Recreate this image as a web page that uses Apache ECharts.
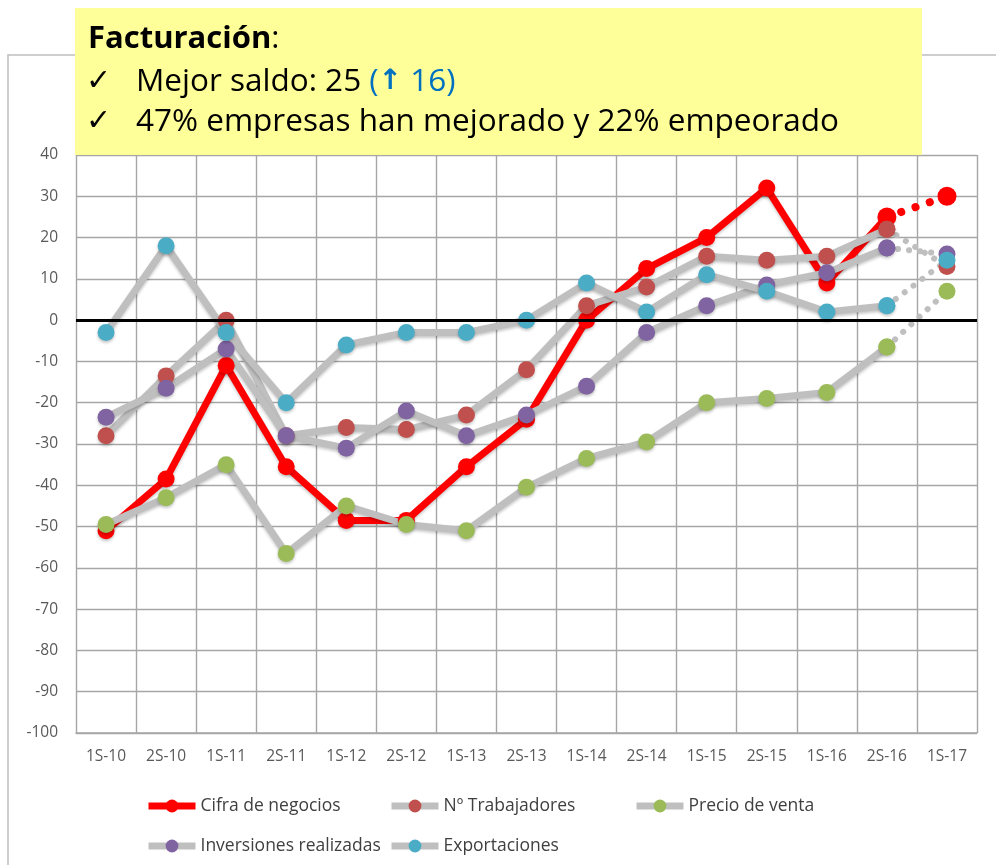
<!DOCTYPE html>
<html>
<head>
<meta charset="utf-8">
<script src="https://cdn.jsdelivr.net/npm/echarts@6/dist/echarts.min.js"></script>
<style>
html,body{margin:0;padding:0;background:#fff;}
#main{width:996px;height:865px;}
</style>
</head>
<body>
<div id="main"></div>
<script>
// categorias (semestres)
var categories=['1S-10','2S-10','1S-11','2S-11','1S-12','2S-12','1S-13','2S-13','1S-14','2S-14','1S-15','2S-15','1S-16','2S-16','1S-17'];
// saldos
var cifraNegocios=[-51,-38.5,-11,-35.5,-48.5,-48.5,-35.5,-24,0,12.5,20,32,9,25,30];
var trabajadores=[-28,-13.5,0,-28,-26,-26.5,-23,-12,3.5,8,15.5,14.5,15.5,22,13];
var precioVenta=[-49.5,-43,-35,-56.5,-45,-49.5,-51,-40.5,-33.5,-29.5,-20,-19,-17.5,-6.5,7];
var inversiones=[-23.5,-16.5,-7,-28,-31,-22,-28,-23,-16,-3,3.5,8.5,11.5,17.5,16];
var exportaciones=[-3,18,-3,-20,-6,-3,-3,0,9,2,11,7,2,3.5,14.5];
var yTicks=[-100,-90,-80,-70,-60,-50,-40,-30,-20,-10,0,10,20,30,40];

var seriesDefs=[
	{name:'Cifra de negocios',data:cifraNegocios,line:'#FF0000',dot:'#FF0000'},
	{name:'Nº Trabajadores',data:trabajadores,line:'#BFBFBF',dot:'#C0504D'},
	{name:'Precio de venta',data:precioVenta,line:'#BFBFBF',dot:'#9BBB59'},
	{name:'Inversiones realizadas',data:inversiones,line:'#BFBFBF',dot:'#8064A2'},
	{name:'Exportaciones',data:exportaciones,line:'#BFBFBF',dot:'#4BACC6'}
];
var legendPos=[[140,792],[383,792],[628,792],[140,832],[383,832]];

var FONT='"Open Sans"';
var last=categories.length-1;
var series=[];
var legends=[];
seriesDefs.forEach(function(s,k){
	//tramo real
	var solid=s.data.map(function(v,i){return i<last?v:null;});
	//tramo previsto (punteado)
	var dotted=s.data.map(function(v,i){return i>=last-1?v:null;});
	series.push({
		name:s.name,type:'line',data:solid,symbol:'circle',symbolSize:17,
		lineStyle:{color:s.line,width:7,shadowColor:'rgba(0,0,0,0.22)',shadowBlur:3,shadowOffsetY:2},
		itemStyle:{color:s.dot,shadowColor:'rgba(0,0,0,0.22)',shadowBlur:3,shadowOffsetY:2},
		markLine:k==0?{silent:true,symbol:'none',label:{show:false},lineStyle:{color:'#000',width:3,type:'solid'},data:[{yAxis:0}]}:undefined
	});
	series.push({
		name:s.name,type:'line',data:dotted,symbol:'circle',symbolSize:k==0?19:17,
		lineStyle:{color:s.line,width:k==0?8:6,type:k==0?[0.1,15]:[0.1,11],cap:'round'},
		itemStyle:{color:s.dot}
	});
	legends.push({
		data:[s.name],left:legendPos[k][0],top:legendPos[k][1],
		itemWidth:47,itemHeight:16,itemGap:0,
		lineStyle:{width:7},
		textStyle:{fontFamily:FONT,fontSize:17.5,color:'#404040'}
	});
});

var myChart=echarts.init(document.getElementById('main'));
var option={
	animation:false,
	backgroundColor:'#fff',
	legend:legends,
	grid:{left:76,right:19,top:155,bottom:132,containLabel:false},
	xAxis:{
		type:'category',data:categories,boundaryGap:true,
		axisLine:{onZero:false,lineStyle:{color:'#A6A6A6',width:1.5}},
		axisTick:{show:false},
		axisLabel:{fontFamily:FONT,fontSize:15.5,color:'#595959',margin:16,interval:0},
		splitLine:{show:true,interval:0,lineStyle:{color:'#A6A6A6',width:1.4}}
	},
	yAxis:{
		type:'value',min:yTicks[0],max:yTicks[yTicks.length-1],interval:10,
		axisLine:{show:false},axisTick:{show:false},
		axisLabel:{fontFamily:FONT,fontSize:15.5,color:'#595959',margin:18},
		splitLine:{lineStyle:{color:'#A6A6A6',width:1.4}}
	},
	graphic:[
		{type:'rect',shape:{x:8,y:55,width:1010,height:900},style:{fill:'none',stroke:'#BFBFBF',lineWidth:1.5},z:0,silent:true},
		{type:'rect',shape:{x:75,y:8,width:847,height:147},style:{fill:'#FFFF99'},z:10},
		{type:'text',left:88,top:24,z:11,style:{
			text:'{b|Facturación}:',font:'31px '+FONT,fill:'#000',
			rich:{b:{fontFamily:FONT,fontSize:31,fontWeight:'bold',fill:'#000'}}
		}},
		{type:'text',left:86,top:67,z:11,style:{text:'✓',font:'bold 30px "DejaVu Sans"',fill:'#000'}},
		{type:'text',left:136,top:66,z:11,style:{
			text:'Mejor saldo: 25 {bl|(}{ar|↑}{bl| 16)}',font:'31.5px '+FONT,fill:'#000',
			rich:{bl:{fontFamily:FONT,fontSize:31.5,fill:'#0070C0'},ar:{fontFamily:'DejaVu Sans',fontSize:28,fontWeight:'bold',fill:'#0070C0'}}
		}},
		{type:'text',left:86,top:107,z:11,style:{text:'✓',font:'bold 30px "DejaVu Sans"',fill:'#000'}},
		{type:'text',left:136,top:106,z:11,style:{
			text:'47% empresas han mejorado y 22% empeorado',font:'31.5px '+FONT,fill:'#000'
		}}
	],
	series:series
};
myChart.setOption(option);
</script>
</body>
</html>
